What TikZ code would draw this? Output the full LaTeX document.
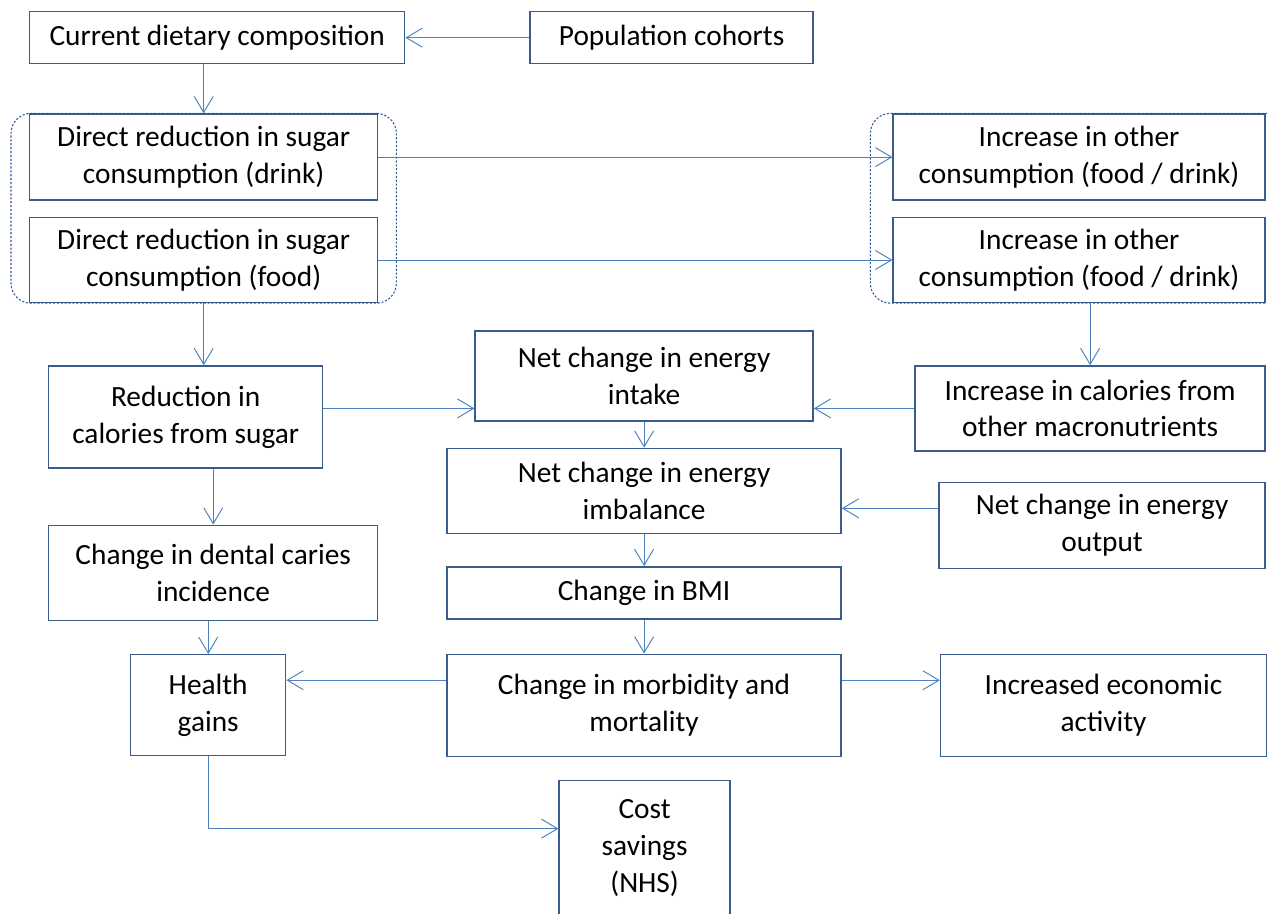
\documentclass[tikz,border=0pt]{standalone}
\usepackage{fontspec}
\setmainfont{Carlito}
\usepackage{tikz}
\usetikzlibrary{positioning,arrows.meta,fit}
\definecolor{boxblue}{RGB}{56,93,138}
\definecolor{lineblue}{RGB}{79,129,189}
\definecolor{groupblue}{RGB}{47,85,151}
\tikzstyle{box} = [
rectangle,
inner sep=0pt,
align=center,
text centered,
line width=0.8pt,
draw=boxblue,
font=\fontsize{16.7pt}{21pt}\selectfont
]
\tikzstyle{group} = [
rectangle,
rounded corners=0.4cm,
inner xsep=0.4cm,
inner ysep=0pt,
line width=0.6pt,
dash pattern=on 1.2pt off 1pt,
draw=groupblue
]
\tikzstyle{arrow} = [
line width=0.55pt,
draw=lineblue,
-{Straight Barb[length=0.32cm,width=0.38cm]}
]

\begin{document}
\begin{tikzpicture}
\useasboundingbox (0,0) rectangle (25.34,-18.28);
%Nodes
\node[box,minimum width=7.5cm,minimum height=1.04cm,anchor=north west] (cur) at (0.58,-0.22) {Current dietary composition};
\node[box,minimum width=5.66cm,minimum height=1.04cm,right=2.48cm of cur] (pop) {Population cohorts};
\node[box,minimum width=6.96cm,minimum height=1.72cm,below=0.98cm of cur.south west,anchor=north west] (drink) {Direct reduction in sugar\\consumption (drink)};
\node[box,minimum width=6.96cm,minimum height=1.7cm,below=0.32cm of drink] (food) {Direct reduction in sugar\\consumption (food)};
\node[box,minimum width=7.44cm,minimum height=1.72cm,right=10.28cm of drink] (incd) {Increase in other\\consumption (food / drink)};
\node[box,minimum width=7.44cm,minimum height=1.7cm,below=0.32cm of incd] (incf) {Increase in other\\consumption (food / drink)};
\node[box,minimum width=5.48cm,minimum height=2.04cm,below=1.24cm of food.south west,anchor=north west,xshift=0.38cm] (red) {Reduction in\\calories from sugar};
\node[box,minimum width=6.58cm,minimum height=1.9cm,below=1.12cm of red.south west,anchor=north west] (dental) {Change in dental caries\\incidence};
\node[box,minimum width=3.1cm,minimum height=2.02cm,below=0.66cm of dental.south west,anchor=north west,xshift=1.64cm] (health) {Health\\gains};
\node[box,minimum width=7.88cm,minimum height=2.04cm,right=3.2cm of health] (morb) {Change in morbidity and\\mortality};
\node[box,minimum width=7.88cm,minimum height=1.04cm,above=0.68cm of morb] (bmi) {Change in BMI};
\node[box,minimum width=7.88cm,minimum height=1.7cm,above=0.64cm of bmi] (imb) {Net change in energy\\imbalance};
\node[box,minimum width=6.76cm,minimum height=1.8cm,above=0.52cm of imb] (ni) {Net change in energy\\intake};
\node[box,minimum width=7cm,minimum height=1.7cm,below=1.24cm of incf.south east,anchor=north east] (ical) {Increase in calories from\\other macronutrients};
\node[box,minimum width=6.52cm,minimum height=1.72cm,below=0.6cm of ical.south east,anchor=north east] (eo) {Net change in energy\\output};
\node[box,minimum width=6.52cm,minimum height=2.04cm,right=1.96cm of morb] (econ) {Increased economic\\activity};
\node[box,minimum width=3.42cm,minimum height=2.7cm,below=0.46cm of morb.south west,anchor=north west,xshift=2.24cm] (cost) {Cost\\savings\\(NHS)};
%Groups
\node[group,inner xsep=0.36cm,fit=(drink)(food)] (sugargrp) {};
\node[group,inner xsep=0.44cm,fit=(incd)(incf)] (othergrp) {};
%Arrows
\coordinate (eoin) at ([yshift=0.34cm]eo.west);
\coordinate (morbl) at ([yshift=0.5cm]morb.west);
\coordinate (morbr) at ([yshift=0.5cm]morb.east);
\coordinate (costin) at ([yshift=0.39cm]cost.west);
\draw[arrow] (pop.west) -- (cur.east);
\draw[arrow] (cur.south -| drink.north) -- (drink.north);
\draw[arrow] (drink.east) -- (incd.west);
\draw[arrow] (food.east) -- (incf.west);
\draw[arrow] (food.south) -- (food.south |- red.north);
\draw[arrow] (incf.south -| ical.north) -- (ical.north);
\draw[arrow] (red.east |- ical.west) -- (ni.west |- ical.west);
\draw[arrow] (ical.west) -- (ical.west -| ni.east);
\draw[arrow] (ni.south) -- (imb.north);
\draw[arrow] (eoin) -- (eoin -| imb.east);
\draw[arrow] (imb.south) -- (bmi.north);
\draw[arrow] (bmi.south) -- (morb.north);
\draw[arrow] (red.south -| dental.north) -- (dental.north);
\draw[arrow] (dental.south -| health.north) -- (health.north);
\draw[arrow] (morbl) -- (morbl -| health.east);
\draw[arrow] (morbr) -- (morbr -| econ.west);
\draw[arrow] (health.south) |- (costin);
\end{tikzpicture}
\end{document}
